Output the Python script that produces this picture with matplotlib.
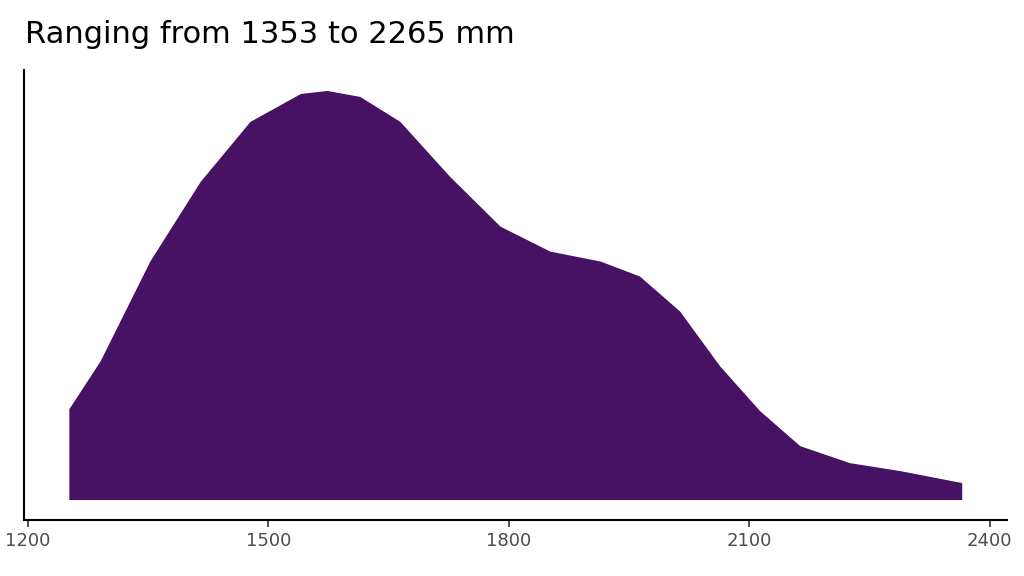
import matplotlib.pyplot as plt

length_mm = [1251, 1290, 1352, 1415, 1477, 1540, 1573, 1614, 1664, 1726, 1789, 1851, 1914, 1963, 2013, 2063, 2113, 2163, 2225, 2288, 2365]
density = [91, 139, 239, 319, 379, 407, 410, 404, 379, 324, 274, 249, 239, 224, 189, 134, 89, 54, 37, 29, 17]
xticks = [1200, 1500, 1800, 2100, 2400]
title = "Ranging from 1353 to 2265 mm"

fig = plt.figure(figsize=(10.24, 5.76), dpi=100)
ax = fig.add_axes([0.0234, 0.0972, 0.9596, 0.7813])
ax.fill_between(length_mm, 0, density, color="#471164", linewidth=0)
ax.set_xlim(1195, 2421)
ax.set_ylim(-20.5, 430.5)
ax.set_xticks(xticks)
ax.set_xticklabels([str(t) for t in xticks], fontsize=13, color="#4d4d4d")
ax.set_yticks([])
for s in ["top", "right"]:
    ax.spines[s].set_visible(False)
for s in ["left", "bottom"]:
    ax.spines[s].set_linewidth(1.5)
ax.tick_params(axis="x", length=5, width=1.2, color="#333333")
fig.text(0.024, 0.915, title, fontsize=22, ha="left", va="bottom")
fig.savefig("out.png")
